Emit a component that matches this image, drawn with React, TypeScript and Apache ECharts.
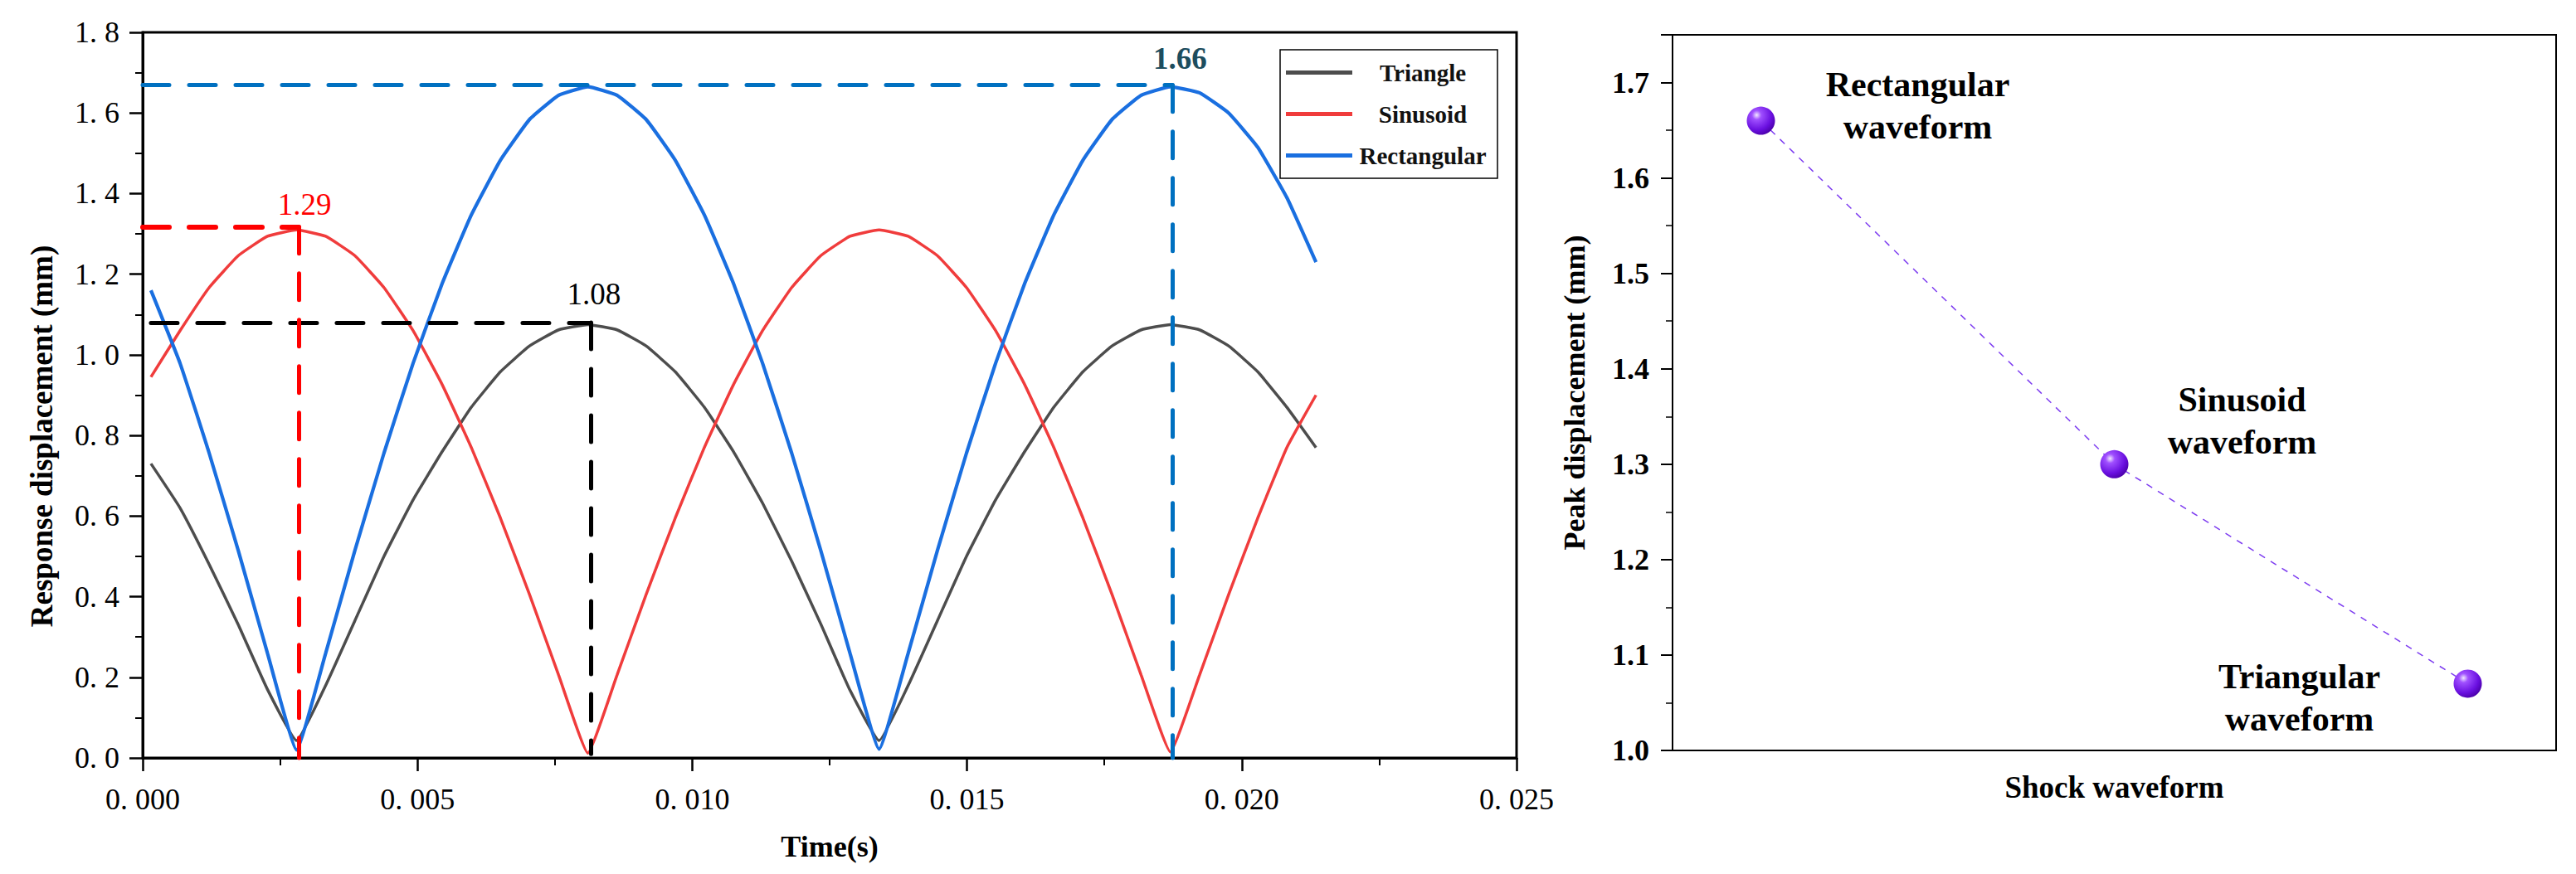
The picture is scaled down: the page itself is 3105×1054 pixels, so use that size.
import { useEffect, useRef } from 'react';
import * as echarts from 'echarts';

// time axis (s), sampled at the same instants for the three responses
const timeS = [
  0.00015, 0.00068, 0.00121, 0.00174, 0.00227, 0.0028, 0.00333, 0.00386, 0.00439, 0.00492,
  0.00545, 0.00598, 0.00651, 0.00704, 0.00757, 0.0081, 0.00863, 0.00916, 0.00969, 0.01022,
  0.01075, 0.01128, 0.01181, 0.01234, 0.01287, 0.0134, 0.01393, 0.01446, 0.01499, 0.01552,
  0.01605, 0.01658, 0.01711, 0.01764, 0.01817, 0.0187, 0.01923, 0.01976, 0.02029, 0.02082,
  0.02135,
];

// response displacement (mm)
const triangle = [
  0.73, 0.62, 0.48, 0.33, 0.17, 0.043, 0.18, 0.34, 0.5, 0.64,
  0.76, 0.87, 0.958, 1.022, 1.062, 1.075, 1.062, 1.022, 0.958, 0.87,
  0.76, 0.632, 0.488, 0.332, 0.168, 0.043, 0.18, 0.34, 0.5, 0.64,
  0.76, 0.87, 0.958, 1.022, 1.062, 1.075, 1.062, 1.022, 0.958, 0.87,
  0.77,
];
const sinusoid = [
  0.945, 1.06, 1.167, 1.246, 1.294, 1.31, 1.294, 1.246, 1.167, 1.06,
  0.926, 0.77, 0.595, 0.405, 0.205, 0.012, 0.205, 0.405, 0.595, 0.77,
  0.926, 1.06, 1.167, 1.246, 1.294, 1.31, 1.294, 1.246, 1.167, 1.06,
  0.926, 0.77, 0.595, 0.405, 0.205, 0.015, 0.205, 0.405, 0.595, 0.77,
  0.9,
];
const rectangular = [
  1.16, 0.979, 0.756, 0.514, 0.26, 0.02, 0.26, 0.514, 0.756, 0.979,
  1.177, 1.347, 1.483, 1.584, 1.644, 1.665, 1.644, 1.584, 1.483, 1.347,
  1.177, 0.979, 0.756, 0.514, 0.26, 0.022, 0.26, 0.514, 0.756, 0.979,
  1.177, 1.347, 1.483, 1.584, 1.644, 1.665, 1.65, 1.6, 1.515, 1.39,
  1.23,
];
const seriesNames = ['Triangle', 'Sinusoid', 'Rectangular'];

// peak guides: label text, time of peak, level of the dashed line, start/end of the lines
const peakLabels = ['1.08', '1.29', '1.66'];
const peakTimes = [0.00815, 0.00284, 0.01874];
const peakLevels = [1.08, 1.317, 1.669];
const guideStart = [0.00015, 0, 0];
const guideEnd = [0.01, 0, 0];

// right panel: peak displacement per shock waveform
const waveforms = ['Rectangular', 'Sinusoid', 'Triangular'];
const peakDisplacement = [1.66, 1.3, 1.07];

const FONT = "'Liberation Serif', 'Times New Roman', serif";

function App() {
  const chartRef = useRef<HTMLDivElement>(null);

  useEffect(() => {
    document.body.style.margin = '0';
    if (!chartRef.current) return;
    const chart = echarts.init(chartRef.current, undefined, { renderer: 'svg' });

    const curveColors = ['#4d4d4d', '#f03c3c', '#1a6fe0'];
    const curveWidths = [3.5, 3.5, 4.2];
    const curveData = [triangle, sinusoid, rectangular];

    const guideStyle = [
      { color: '#000000', hWidth: 5, labelColor: '#000000', weight: 'normal', offset: [4, -35] },
      { color: '#ff0000', hWidth: 6, labelColor: '#ff0000', weight: 'normal', offset: [7, -27] },
      { color: '#0070c0', hWidth: 5, labelColor: '#1d4d5e', weight: 'bold', offset: [9, -32] },
    ];
    const dash = [32, 24];

    const curveSeries = seriesNames.map((name, k) => ({
      name,
      type: 'line',
      xAxisIndex: 0,
      yAxisIndex: 0,
      showSymbol: false,
      symbol: 'none',
      smooth: 0.12,
      data: timeS.map((t, i) => [t, curveData[k][i]]),
      lineStyle: { color: curveColors[k], width: curveWidths[k] },
      itemStyle: { color: curveColors[k] },
      z: 2,
    }));

    const guideSeries = peakLabels.map((label, k) => {
      const st = guideStyle[k];
      const t = peakTimes[k];
      const y = peakLevels[k];
      return {
        name: 'guide ' + label,
        type: 'line',
        xAxisIndex: 0,
        yAxisIndex: 0,
        data: [],
        z: 3,
        markLine: {
          silent: true,
          symbol: ['none', 'none'],
          label: { show: false },
          animation: false,
          data: [
            [
              { coord: [guideStart[k], y], lineStyle: { color: st.color, width: st.hWidth, type: dash, cap: 'round' } },
              { coord: [t, y] },
            ],
            [
              { coord: [t, y], lineStyle: { color: st.color, width: 5, type: dash, cap: 'round' } },
              { coord: [t, guideEnd[k]] },
            ],
          ],
        },
        markPoint: {
          symbol: 'rect',
          symbolSize: 1,
          itemStyle: { color: 'rgba(0,0,0,0)' },
          label: {
            show: true,
            position: 'inside',
            offset: st.offset,
            formatter: label,
            fontFamily: FONT,
            fontSize: 37,
            fontWeight: st.weight,
            color: st.labelColor,
          },
          data: [{ coord: [t, y], value: label }],
        },
      };
    });

    const labelOffsets = [
      [189, -18],
      [154, -52],
      [-203, 17],
    ];

    const sphere = new echarts.graphic.RadialGradient(0.35, 0.3, 0.75, [
      { offset: 0, color: '#f2e8ff' },
      { offset: 0.22, color: '#a050ff' },
      { offset: 0.7, color: '#6a10e0' },
      { offset: 1, color: '#4a00a8' },
    ]);

    const option = {
      animation: false,
      backgroundColor: '#ffffff',
      textStyle: { fontFamily: FONT },
      grid: [
        { left: 172, top: 39, width: 1656, height: 875, show: true, borderColor: '#000', borderWidth: 3 },
        { left: 2016, top: 42, width: 1065, height: 863, show: true, borderColor: '#000', borderWidth: 2 },
      ],
      legend: {
        data: seriesNames,
        orient: 'vertical',
        left: 1543,
        top: 60,
        icon: 'rect',
        itemWidth: 80,
        itemHeight: 5,
        itemGap: 21,
        padding: [13, 10, 13, 7],
        borderColor: '#000',
        borderWidth: 1.5,
        formatter: (name: string) => `{c|${name}}`,
        textStyle: {
          rich: {
            c: {
              width: 160,
              align: 'center',
              lineHeight: 32,
              fontFamily: FONT,
              fontWeight: 'bold',
              fontSize: 29,
              color: '#111',
            },
          },
        },
      },
      xAxis: [
        {
          type: 'value',
          gridIndex: 0,
          min: 0,
          max: 0.025,
          interval: 0.005,
          name: 'Time(s)',
          nameLocation: 'middle',
          nameGap: 89,
          nameTextStyle: { fontFamily: FONT, fontWeight: 'bold', fontSize: 36, color: '#000' },
          axisLine: { show: true, lineStyle: { color: '#000', width: 3 } },
          axisTick: { show: true, length: 16, lineStyle: { width: 2.5, color: '#000' } },
          minorTick: { show: true, splitNumber: 2, length: 9, lineStyle: { width: 2, color: '#000' } },
          splitLine: { show: false },
          axisLabel: {
            margin: 32,
            fontFamily: FONT,
            fontSize: 36,
            color: '#000',
            formatter: (v: number) => v.toFixed(3).replace('.', '. '),
          },
        },
        {
          type: 'value',
          gridIndex: 1,
          min: 0.75,
          max: 3.25,
          name: 'Shock waveform',
          nameLocation: 'middle',
          nameGap: 26,
          nameTextStyle: { fontFamily: FONT, fontWeight: 'bold', fontSize: 37, color: '#000' },
          axisLine: { show: true, lineStyle: { color: '#000', width: 2 } },
          axisTick: { show: false },
          axisLabel: { show: false },
          splitLine: { show: false },
        },
      ],
      yAxis: [
        {
          type: 'value',
          gridIndex: 0,
          min: 0,
          max: 1.8,
          interval: 0.2,
          axisLine: { show: true, lineStyle: { color: '#000', width: 3 } },
          axisTick: { show: true, length: 16, lineStyle: { width: 2.5, color: '#000' } },
          minorTick: { show: true, splitNumber: 2, length: 9, lineStyle: { width: 2, color: '#000' } },
          splitLine: { show: false },
          axisLabel: {
            margin: 28,
            fontFamily: FONT,
            fontSize: 36,
            color: '#000',
            formatter: (v: number) => v.toFixed(1).replace('.', '. '),
          },
        },
        {
          type: 'value',
          gridIndex: 1,
          min: 1.0,
          max: 1.75,
          interval: 0.1,
          name: 'Peak displacement (mm)',
          nameLocation: 'middle',
          nameGap: 100,
          nameTextStyle: { fontFamily: FONT, fontWeight: 'bold', fontSize: 36, color: '#000' },
          axisLine: { show: true, lineStyle: { color: '#000', width: 2 } },
          axisTick: { show: true, length: 14, lineStyle: { width: 2, color: '#000' } },
          minorTick: { show: true, splitNumber: 2, length: 8, lineStyle: { width: 1.5, color: '#000' } },
          splitLine: { show: false },
          axisLabel: {
            margin: 28,
            showMaxLabel: false,
            fontFamily: FONT,
            fontWeight: 'bold',
            fontSize: 36,
            color: '#000',
            formatter: (v: number) => v.toFixed(1),
          },
        },
      ],
      graphic: [
        {
          type: 'text',
          x: 50,
          y: 526,
          rotation: Math.PI / 2,
          style: {
            text: 'Response displacement (mm)',
            fontFamily: FONT,
            fontWeight: 'bold',
            fontSize: 37,
            fill: '#000',
            textAlign: 'center',
            textVerticalAlign: 'middle',
          },
        },
      ],
      series: [
        ...curveSeries,
        ...guideSeries,
        {
          name: 'Peak displacement',
          type: 'line',
          xAxisIndex: 1,
          yAxisIndex: 1,
          symbol: 'circle',
          symbolSize: 34,
          showSymbol: true,
          lineStyle: { color: '#7d3cf0', width: 1.5, type: [8, 8] },
          itemStyle: { color: sphere },
          data: peakDisplacement.map((v, i) => ({
            value: [i + 1, v],
            label: { offset: labelOffsets[i] },
          })),
          label: {
            show: true,
            position: 'inside',
            formatter: (p: any) => `${waveforms[p.dataIndex]}\nwaveform`,
            fontFamily: FONT,
            fontWeight: 'bold',
            fontSize: 42,
            lineHeight: 51,
            align: 'center',
            verticalAlign: 'middle',
            color: '#000',
          },
        },
      ],
    };

    chart.setOption(option as any);

    return () => {
      chart.dispose();
    };
  }, []);

  return <div ref={chartRef} style={{ width: 3105, height: 1054 }} />;
}

export default App;
